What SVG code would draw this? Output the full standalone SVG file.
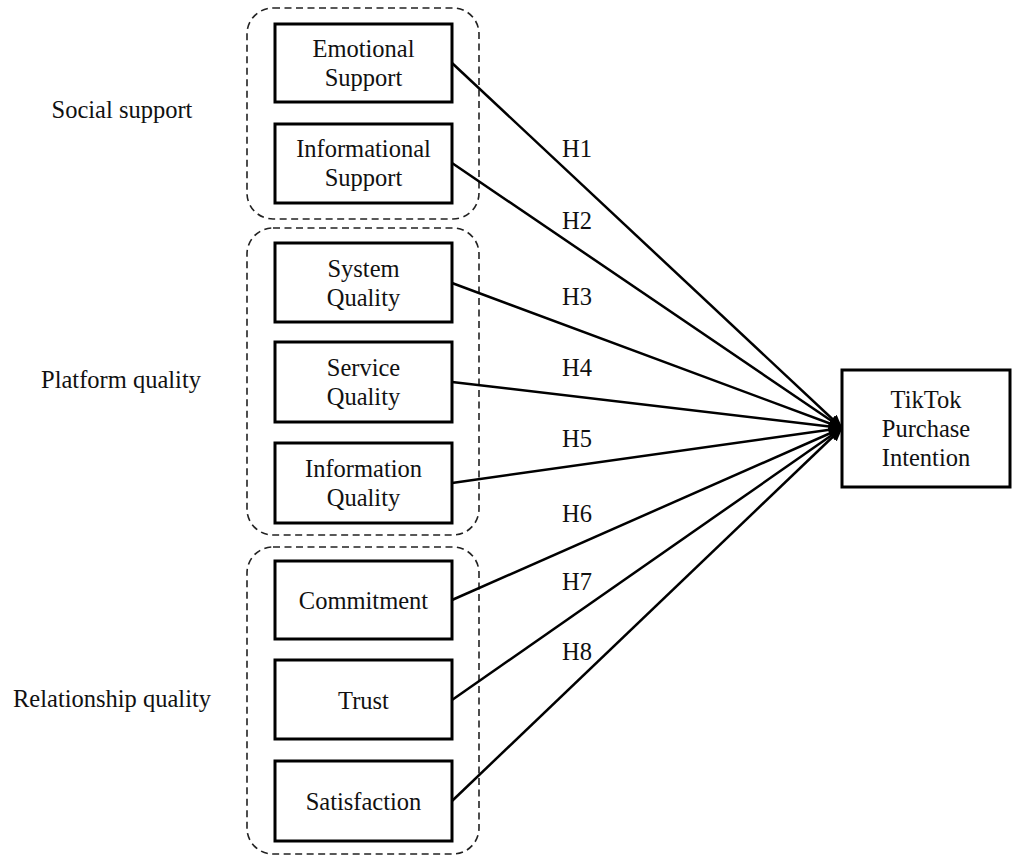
<svg xmlns="http://www.w3.org/2000/svg" width="1012" height="856" viewBox="0 0 1012 856">
<defs>
<style>
text{font-family:'Liberation Serif','DejaVu Serif',serif;font-size:24.5px;fill:#111;}
.c{text-anchor:middle;}
.box{fill:#fff;stroke:#000;stroke-width:3;}
.grp{fill:none;stroke:#222;stroke-width:1.6;stroke-dasharray:7 4.5;}
.edge{stroke:#000;stroke-width:2.5;fill:none;marker-end:url(#ah);}
</style>
<marker id="ah" markerUnits="userSpaceOnUse" markerWidth="14" markerHeight="12" refX="13" refY="6" orient="auto">
<path d="M0,0 L14,6 L0,12 Z" fill="#000"/>
</marker>
</defs>
<rect width="1012" height="856" fill="#fff"/>
<g id="groups">
<rect id="g-social" class="grp" x="247" y="8" width="232" height="211" rx="26"/>
<rect id="g-platform" class="grp" x="247" y="228" width="232" height="307" rx="26"/>
<rect id="g-relationship" class="grp" x="247" y="547" width="232" height="307" rx="26"/>
</g>
<g id="group-labels" font-family="Liberation Serif, serif">
<text class="c" x="122" y="118">Social support</text>
<text class="c" x="121" y="388">Platform quality</text>
<text class="c" x="112" y="707">Relationship quality</text>
</g>
<g id="connectors">
<line class="edge" x1="452" y1="63" x2="842" y2="428"/>
<line class="edge" x1="452" y1="163" x2="842" y2="428"/>
<line class="edge" x1="452" y1="283" x2="842" y2="428"/>
<line class="edge" x1="452" y1="382" x2="842" y2="428"/>
<line class="edge" x1="452" y1="483" x2="842" y2="428"/>
<line class="edge" x1="452" y1="600" x2="842" y2="428"/>
<line class="edge" x1="452" y1="700" x2="842" y2="428"/>
<line class="edge" x1="452" y1="801" x2="842" y2="428"/>
<text class="c" x="577" y="157">H1</text>
<text class="c" x="577" y="229">H2</text>
<text class="c" x="577" y="305">H3</text>
<text class="c" x="577" y="376">H4</text>
<text class="c" x="577" y="447">H5</text>
<text class="c" x="577" y="522">H6</text>
<text class="c" x="577" y="590">H7</text>
<text class="c" x="577" y="660">H8</text>
</g>
<g id="emotional">
<rect class="box" x="275" y="24" width="177" height="78"/>
<text class="c" x="363.5" y="57">Emotional</text>
<text class="c" x="363.5" y="86">Support</text>
</g>
<g id="informational">
<rect class="box" x="275" y="124" width="177" height="79"/>
<text class="c" x="363.5" y="157">Informational</text>
<text class="c" x="363.5" y="186">Support</text>
</g>
<g id="system">
<rect class="box" x="275" y="243" width="177" height="79"/>
<text class="c" x="363.5" y="277">System</text>
<text class="c" x="363.5" y="306">Quality</text>
</g>
<g id="service">
<rect class="box" x="275" y="342" width="177" height="80"/>
<text class="c" x="363.5" y="376">Service</text>
<text class="c" x="363.5" y="405">Quality</text>
</g>
<g id="infoquality">
<rect class="box" x="275" y="443" width="177" height="80"/>
<text class="c" x="363.5" y="477">Information</text>
<text class="c" x="363.5" y="506">Quality</text>
</g>
<g id="commitment">
<rect class="box" x="275" y="561" width="177" height="78"/>
<text class="c" x="363.5" y="609">Commitment</text>
</g>
<g id="trust">
<rect class="box" x="275" y="660" width="177" height="79"/>
<text class="c" x="363.5" y="709">Trust</text>
</g>
<g id="satisfaction">
<rect class="box" x="275" y="761" width="177" height="80"/>
<text class="c" x="363.5" y="810">Satisfaction</text>
</g>
<g id="tiktok">
<rect class="box" x="842" y="370" width="168" height="117"/>
<text class="c" x="926" y="408">TikTok</text>
<text class="c" x="926" y="437">Purchase</text>
<text class="c" x="926" y="466">Intention</text>
</g>
</svg>
